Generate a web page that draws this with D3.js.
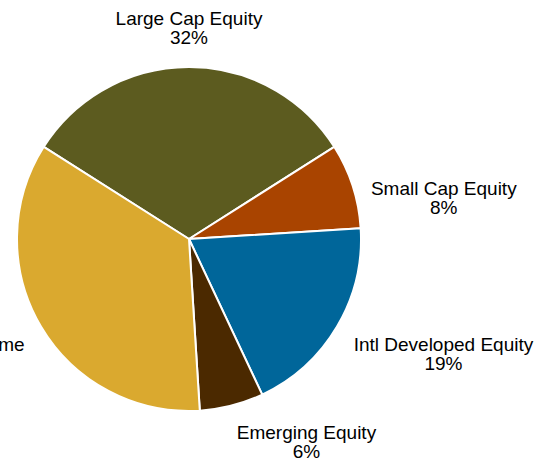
<!DOCTYPE html>
<html><head><meta charset="utf-8">
<script src="https://cdn.jsdelivr.net/npm/d3@7"></script>
<style>html,body{margin:0;padding:0;background:#fff;overflow:hidden}</style>
</head><body>
<svg id="chart" width="554" height="459"></svg>
<script>
const categories = ["Large Cap Equity", "Small Cap Equity", "Intl Developed Equity", "Emerging Equity", "Fixed Income"];
const values = [32, 8, 19, 6, 35];
const colors = ["#5c5b1f", "#a94400", "#00669a", "#4b2900", "#daa92f"];

const svg = d3.select("#chart");
const cx = 189, cy = 239, radius = 172, labelRadius = 191;
const fontSize = 19;
const startAngle = -2 * Math.PI * values[0] / 200;

const data = categories.map((c, i) => ({ name: c, value: values[i], color: colors[i] }));
const total = d3.sum(values);
const pie = d3.pie().value(d => d.value).sort(null)
  .startAngle(startAngle).endAngle(startAngle + 2 * Math.PI);
const arcs = pie(data);
const arc = d3.arc().innerRadius(0).outerRadius(radius);

const g = svg.append("g").attr("transform", `translate(${cx},${cy})`);
g.selectAll("path.slice").data(arcs).join("path")
  .attr("class", "slice")
  .attr("d", arc)
  .attr("fill", d => d.data.color)
  .attr("stroke", "#fff")
  .attr("stroke-width", 2)
  .attr("stroke-linejoin", "round");

const fmt = d3.format(".0%");
const labels = g.selectAll("g.label").data(arcs).join("g").attr("class", "label");
labels.each(function(d) {
  const mid = (d.startAngle + d.endAngle) / 2;
  const s = Math.sin(mid), c = Math.cos(mid);
  const px = labelRadius * s, py = -labelRadius * c;
  const lines = [d.data.name, fmt(d.data.value / total)];
  const sel = d3.select(this);
  const t = sel.append("text")
    .attr("font-family", "Liberation Sans, Arial, sans-serif")
    .attr("font-size", fontSize)
    .attr("fill", "#000")
    .attr("text-anchor", "middle");
  lines.forEach((l, i) => t.append("tspan").attr("x", 0).attr("y", i * 19).text(l));
  const bb = t.node().getBBox();
  const w = bb.width;
  let ox;
  if (Math.abs(s) < 0.1) ox = 0;
  else if (s > 0) ox = w / 2;
  else ox = -w / 2;
  let oy;
  if (c > 0.5) oy = -4 - 19;
  else oy = 15;
  sel.attr("transform", `translate(${px + ox},${py + oy})`);
});
</script>
</body></html>
